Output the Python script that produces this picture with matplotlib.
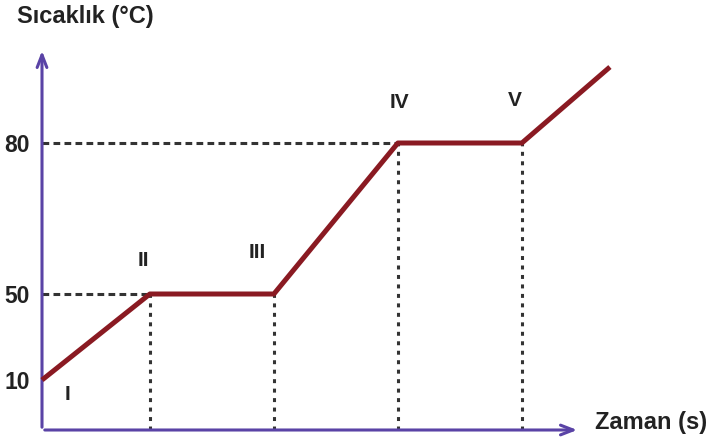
import matplotlib.pyplot as plt
import numpy as np

plt.rcParams['font.family'] = ['Liberation Sans', 'DejaVu Sans']

# Isitma egrisi verileri (sematik)
zaman = [0, 8.7, 18.7, 28.7, 38.7, 45.8]
sicaklik = [10, 50, 50, 80, 80, 110]
bolgeler = ["I", "II", "III", "IV", "V"]
y_etiketler = [10, 50, 80]

# sematik eksen: sicaklik -> yukseklik (piksel) eslemesi
T_knot = [0, 10, 50, 80, 110, 140]
H_knot = [0, 50, 136, 287, 363, 439]


def ileri(t):
    return np.interp(t, T_knot, H_knot)


def geri(h):
    return np.interp(h, H_knot, T_knot)


MOR = "#5a43a6"
KIRMIZI = "#8a1a22"
KOYU = "#222222"

fig = plt.figure(figsize=(7.1, 4.43), dpi=100)
ax = fig.add_axes([42 / 710, 13 / 443, 598 / 710, 390 / 443])
ax.set_yscale('function', functions=(ileri, geri))
ax.set_xlim(0, 598 / 12.4)
ax.set_ylim(0, geri(390))
for s in ax.spines.values():
    s.set_visible(False)
ax.set_xticks([])
ax.set_yticks(y_etiketler)
ax.set_yticklabels([str(v) for v in y_etiketler], fontsize=16.5, fontweight='bold', color=KOYU)
ax.tick_params(axis='y', length=0, pad=9)
ax.patch.set_alpha(0)

# kesikli cizgiler
yatay = dict(color="#333333", lw=2.2, ls=(0, (2.2, 1.4)), zorder=1)
dikey = dict(color="#333333", lw=2.2, ls=(0, (1.3, 1.8)), zorder=1)
ax.plot([0, zaman[1]], [50, 50], **yatay)
ax.plot([0, zaman[3]], [80, 80], **yatay)
for x, y in zip(zaman[1:5], sicaklik[1:5]):
    ax.plot([x, x], [0, y], **dikey)

# eksen oklari
ok = dict(arrowstyle='->,head_length=0.9,head_width=0.35', color=MOR, lw=2.2)
ax.annotate("", xy=(0, geri(382)), xytext=(0, 0), arrowprops=ok, annotation_clip=False)
ax.annotate("", xy=(538 / 12.4, 0), xytext=(0, 0), arrowprops=ok, annotation_clip=False)

# egri
ax.plot(zaman, sicaklik, color=KIRMIZI, lw=3.6, solid_capstyle='butt', zorder=3, clip_on=False)

# bolge etiketleri
ofsetler = [(25, -15), (-7, 33), (-17, 42), (2, 40), (-7, 43)]
for lbl, x, y, (dx, dy) in zip(bolgeler, zaman, sicaklik, ofsetler):
    ax.annotate(lbl, xy=(x, y), xytext=(dx, dy), textcoords='offset pixels',
                ha='center', va='center', fontsize=15, fontweight='bold', color=KOYU)

fig.text(17 / 710, 1 - 16 / 443, "Sıcaklık (°C)", ha='left', va='center',
         fontsize=17, fontweight='bold', color=KOYU)
fig.text(595 / 710, 1 - 423 / 443, "Zaman (s)", ha='left', va='center',
         fontsize=17, fontweight='bold', color=KOYU)

plt.savefig("out.png", dpi=100)
plt.close()
